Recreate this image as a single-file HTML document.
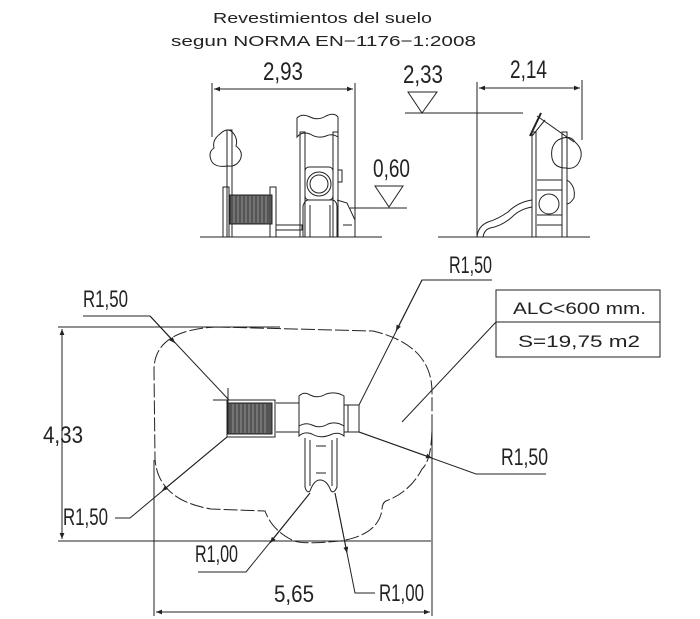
<!DOCTYPE html>
<html><head><meta charset="utf-8"><style>
html,body{margin:0;padding:0;background:#fff}
svg{display:block}
text{font-family:"Liberation Sans",sans-serif;fill:#222}
</style></head><body>
<svg width="700" height="619" viewBox="0 0 700 619" xmlns="http://www.w3.org/2000/svg">
<defs>
<marker id="a" viewBox="0 0 10 10" refX="10" refY="5" markerWidth="12" markerHeight="6" orient="auto-start-reverse" markerUnits="userSpaceOnUse"><path d="M0,1 L10,5 L0,9 Z" fill="#222"/></marker>
</defs>
<text x="213" y="23" font-size="15" textLength="219" lengthAdjust="spacingAndGlyphs">Revestimientos del suelo</text>
<text x="171" y="46" font-size="15" textLength="305" lengthAdjust="spacingAndGlyphs">segun NORMA EN−1176−1:2008</text>

<g fill="none" stroke="#222" stroke-width="1">
<line x1="212" y1="83" x2="212" y2="137"/>
<line x1="355" y1="83" x2="355" y2="237"/>
<line x1="214" y1="89" x2="353" y2="89" marker-start="url(#a)" marker-end="url(#a)"/>
<line x1="200" y1="237" x2="382" y2="237"/>
<path d="M220,134 Q228,126 234,134 Q238,140 236,146 Q244,152 240,160 Q236,167 228,166 Q214,168 211,160 Q208,152 214,148 Q212,140 220,134 Z"/>
<rect x="227" y="130" width="5" height="107"/>
<rect x="223" y="187" width="6" height="50"/>
<rect x="270" y="187" width="6" height="50"/>
<rect x="276" y="225" width="26" height="5"/>
</g>
<rect x="230" y="195" width="42" height="29" fill="#555" stroke="#222"/>
<g stroke="#bbb" stroke-width="0.6">
<line x1="234" y1="196" x2="234" y2="223"/><line x1="238" y1="196" x2="238" y2="223"/><line x1="242" y1="196" x2="242" y2="223"/><line x1="246" y1="196" x2="246" y2="223"/><line x1="250" y1="196" x2="250" y2="223"/><line x1="254" y1="196" x2="254" y2="223"/><line x1="258" y1="196" x2="258" y2="223"/><line x1="262" y1="196" x2="262" y2="223"/><line x1="266" y1="196" x2="266" y2="223"/>
</g>
<g fill="none" stroke="#222" stroke-width="1">
<rect x="300" y="132" width="5" height="105"/>
<rect x="333" y="132" width="5" height="105"/>
<path d="M297,137 L297,118 Q302,113 310,117 Q318,121 326,116 Q334,112 338,117 L338,137 Q332,133 326,136 Q318,139 310,134 Q302,131 297,137 Z"/>
<rect x="305" y="167" width="28" height="33" rx="4"/>
<circle cx="319" cy="184" r="12"/>
<circle cx="319" cy="184" r="9"/>
<rect x="338" y="170" width="4" height="12"/>
<path d="M303,237 L303,206 Q305,199 310,200 L330,200 Q336,199 337,206 L337,237"/>
<line x1="310" y1="205" x2="310" y2="237"/><line x1="330" y1="205" x2="330" y2="237"/>
<path d="M337,200 L347,203 L355,220 L355,237 L337,237"/>
<line x1="343" y1="225" x2="352" y2="225"/>
<path d="M375,186 L403,186 L389,207 Z"/>
<line x1="350" y1="208" x2="407" y2="208"/>
<path d="M408,92 L437,92 L422,113 Z"/>
<line x1="405" y1="113" x2="523" y2="113"/>
<line x1="477" y1="82" x2="477" y2="237"/>
<line x1="582" y1="80" x2="582" y2="140"/>
<line x1="479" y1="88" x2="580" y2="88" marker-start="url(#a)" marker-end="url(#a)"/>
<line x1="438" y1="237" x2="590" y2="237"/>
<rect x="532" y="132" width="4" height="105"/>
<rect x="562" y="132" width="5" height="105"/>
<line x1="530" y1="136" x2="541" y2="113" stroke-width="2"/>
<line x1="537" y1="116" x2="574" y2="142"/>
<line x1="532" y1="136" x2="545" y2="120"/>
<path d="M558,140 Q570,134 575,142 Q584,150 580,160 Q576,170 566,168 Q554,168 552,158 Q550,146 558,140 Z"/>
<line x1="537" y1="180" x2="562" y2="180"/><line x1="537" y1="190" x2="562" y2="190"/>
<line x1="537" y1="215" x2="562" y2="215"/><line x1="537" y1="225" x2="562" y2="225"/>
<circle cx="549" cy="204" r="10"/>
<path d="M567,180 Q576,186 574,198 Q570,204 567,204"/>
<path d="M477,237 Q478,226 488,222 Q498,219 508,212 Q518,202 532,200 L532,207 Q520,209 512,217 Q502,226 490,228 Q484,230 483,237"/>
</g>
<text x="263" y="80" font-size="25" textLength="40" lengthAdjust="spacingAndGlyphs">2,93</text>
<text x="373" y="177" font-size="25" textLength="37" lengthAdjust="spacingAndGlyphs">0,60</text>
<text x="403" y="83" font-size="25" textLength="40" lengthAdjust="spacingAndGlyphs">2,33</text>
<text x="510" y="78" font-size="25" textLength="37" lengthAdjust="spacingAndGlyphs">2,14</text>

<g fill="none" stroke="#222" stroke-width="1">
<path stroke-dasharray="14,3" d="M216,327 L373,331 Q432,345 432,392 L432,425 Q432,460 422,469 Q410,492 386,501 Q382,503 382,510 Q378,535 340,541 Q300,545 292,540 Q272,530 265,511 L211,509 Q158,500 155,459 L154,370 Q154,330 216,327 Z"/>
<line x1="58" y1="327" x2="280" y2="327"/>
<line x1="58" y1="541" x2="431" y2="541"/>
<line x1="62" y1="329" x2="62" y2="539" marker-start="url(#a)" marker-end="url(#a)"/>
<line x1="154" y1="460" x2="154" y2="616"/>
<line x1="432" y1="425" x2="432" y2="616"/>
<line x1="156" y1="612" x2="430" y2="612" marker-start="url(#a)" marker-end="url(#a)"/>
<polyline points="83,316 150,316"/>
<line x1="150" y1="316" x2="229" y2="400"/>
<line x1="150" y1="316" x2="175" y2="343" marker-end="url(#a)"/>
<polyline points="115,518 130,518 227,437"/>
<line x1="227" y1="437" x2="162" y2="491" marker-end="url(#a)"/>
<polyline points="198,572 246,572 310,493"/>
<line x1="310" y1="493" x2="270" y2="543" marker-end="url(#a)"/>
<polyline points="375,593 355,593 335,493"/>
<line x1="335" y1="493" x2="347" y2="553" marker-end="url(#a)"/>
<polyline points="492,280 422,280 359,405"/>
<line x1="422" y1="280" x2="396" y2="331" marker-end="url(#a)"/>
<polyline points="546,474 476,474 359,432"/>
<line x1="359" y1="432" x2="432" y2="458" marker-end="url(#a)"/>
<line x1="496" y1="322" x2="402" y2="422"/>
<rect x="496" y="290" width="164" height="67"/>
<line x1="496" y1="322" x2="660" y2="322"/>
<rect x="227" y="400" width="48" height="37"/>
<line x1="276" y1="403" x2="299" y2="403"/><line x1="276" y1="432" x2="299" y2="432"/>
<line x1="213" y1="400" x2="236" y2="400"/><line x1="228" y1="388" x2="228" y2="410"/>
<path d="M299,396 Q304,391 310,395 Q318,399 326,394 Q336,391 344,396 L344,436 Q338,431 330,435 Q320,439 312,434 Q304,431 299,436 Z"/>
<path d="M299,426 Q306,422 312,425 Q320,429 328,424 Q336,421 344,426"/>
<rect x="344" y="405" width="15" height="27"/>
<line x1="348" y1="405" x2="348" y2="432"/>
<path d="M305,438 L305,487 Q307,494 310,491 Q314,480 320,480 Q327,480 331,491 Q334,494 337,487 L337,438"/>
<line x1="310" y1="440" x2="310" y2="486"/><line x1="332" y1="440" x2="332" y2="486"/>
<line x1="316" y1="446" x2="326" y2="446"/><line x1="316" y1="473" x2="326" y2="473"/>
</g>
<rect x="228" y="403" width="44" height="31" fill="#555" stroke="#222"/>
<g stroke="#bbb" stroke-width="0.6">
<line x1="233" y1="404" x2="233" y2="433"/><line x1="237" y1="404" x2="237" y2="433"/><line x1="241" y1="404" x2="241" y2="433"/><line x1="245" y1="404" x2="245" y2="433"/><line x1="249" y1="404" x2="249" y2="433"/><line x1="253" y1="404" x2="253" y2="433"/><line x1="257" y1="404" x2="257" y2="433"/><line x1="261" y1="404" x2="261" y2="433"/><line x1="265" y1="404" x2="265" y2="433"/>
</g>
<text x="83" y="307" font-size="24" textLength="45" lengthAdjust="spacingAndGlyphs">R1,50</text>
<text x="449" y="273" font-size="24" textLength="43" lengthAdjust="spacingAndGlyphs">R1,50</text>
<text x="43" y="443" font-size="24" textLength="40" lengthAdjust="spacingAndGlyphs">4,33</text>
<text x="63" y="525" font-size="24" textLength="45" lengthAdjust="spacingAndGlyphs">R1,50</text>
<text x="195" y="562" font-size="24" textLength="43" lengthAdjust="spacingAndGlyphs">R1,00</text>
<text x="379" y="601" font-size="24" textLength="45" lengthAdjust="spacingAndGlyphs">R1,00</text>
<text x="501" y="465" font-size="24" textLength="47" lengthAdjust="spacingAndGlyphs">R1,50</text>
<text x="274" y="602" font-size="24" textLength="40" lengthAdjust="spacingAndGlyphs">5,65</text>
<text x="513" y="314" font-size="17" textLength="133" lengthAdjust="spacingAndGlyphs">ALC&lt;600 mm.</text>
<text x="518" y="347" font-size="17" textLength="122" lengthAdjust="spacingAndGlyphs">S=19,75 m2</text>
</svg>
</body></html>
